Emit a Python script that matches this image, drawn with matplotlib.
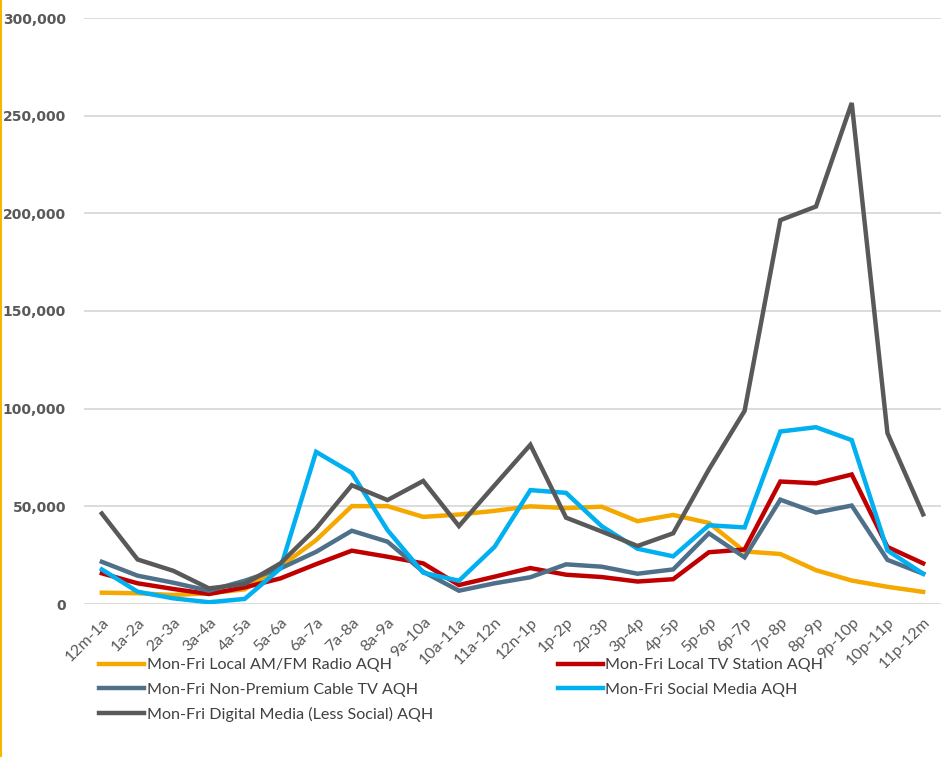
import matplotlib
matplotlib.use('Agg')
import matplotlib.pyplot as plt
from matplotlib.lines import Line2D
from matplotlib.ticker import FuncFormatter

hours = ['12m-1a', '1a-2a', '2a-3a', '3a-4a', '4a-5a', '5a-6a', '6a-7a', '7a-8a',
         '8a-9a', '9a-10a', '10a-11a', '11a-12n', '12n-1p', '1p-2p', '2p-3p', '3p-4p',
         '4p-5p', '5p-6p', '6p-7p', '7p-8p', '8p-9p', '9p-10p', '10p-11p', '11p-12m']

radio = [5800, 5500, 4600, 5500, 7500, 19100, 32700, 50100, 50100, 44600, 45800, 47700,
         50000, 49100, 49800, 42400, 45600, 41500, 26900, 25600, 17300, 12000, 8800, 6200]
tv = [15700, 10600, 7700, 5100, 8500, 13100, 20400, 27300, 24200, 20800, 9700, 14000,
      18400, 15000, 13800, 11500, 12700, 26500, 27900, 62700, 61800, 66300, 29200, 20800]
cable = [21600, 14500, 10900, 6800, 11900, 18200, 26700, 37500, 31900, 16500, 6800, 10600,
         13700, 20300, 19100, 15500, 17700, 36200, 23900, 53400, 46800, 50400, 22600, 15500]
social = [17700, 6300, 2900, 900, 2600, 18200, 77900, 67100, 37800, 16000, 11900, 29300,
          58300, 56900, 39800, 28300, 24400, 40300, 39200, 88300, 90500, 83900, 27400, 15500]
digital = [46300, 22800, 17000, 8000, 10200, 20800, 38700, 60800, 53200, 63000, 39900, 60800,
           81500, 44200, 37100, 29700, 36200, 68900, 98900, 196500, 203500, 256500, 87500, 45900]

series = [
    ('Mon-Fri Local AM/FM Radio AQH', radio, '#F5A800'),
    ('Mon-Fri Local TV Station AQH', tv, '#C00000'),
    ('Mon-Fri Non-Premium Cable TV AQH', cable, '#4E7089'),
    ('Mon-Fri Social Media AQH', social, '#00B0F0'),
    ('Mon-Fri Digital Media (Less Social) AQH', digital, '#595959'),
]

fig = plt.figure(figsize=(9.41, 7.57), dpi=100)
ax = fig.add_axes([84 / 941, 1 - 604 / 757, (941 - 84) / 941, (604 - 18) / 757])

x = range(len(hours))
lines = {}
for name, vals, col in series:
    ln, = ax.plot(x, vals, color=col, linewidth=3.2, label=name, solid_joinstyle='miter')
    lines[name] = ln

ax.set_xlim(-0.5, 23.5)
ax.set_ylim(0, 300000)
ax.set_yticks(range(0, 300001, 50000))
ax.yaxis.set_major_formatter(FuncFormatter(lambda v, p: f'{int(v):,}'))
ax.grid(axis='y', color='#D9D9D9', linewidth=1.3)
ax.set_axisbelow(True)
for s in ax.spines.values():
    s.set_visible(False)
ax.tick_params(axis='both', length=0, colors='#595959')
ax.tick_params(axis='y', labelsize=10, pad=13)
for t in ax.get_yticklabels():
    t.set_fontweight('semibold')
ax.set_xticks(list(x))
ax.set_xticklabels(hours, rotation=45, ha='right', rotation_mode='anchor',
                   fontsize=11.5, family='Lato', color='#595959')
ax.tick_params(axis='x', pad=8)

order = [series[0][0], series[2][0], series[4][0], series[1][0], series[3][0]]
fig.legend([lines[n] for n in order], order, loc='upper left',
           bbox_to_anchor=(99 / 941, 1 - 658 / 757), ncol=2, frameon=False,
           prop={'family': 'Lato', 'size': 11.6}, labelcolor='#404040',
           handlelength=2.8, handletextpad=0.15, columnspacing=7.75,
           labelspacing=0.62, borderpad=0, borderaxespad=0)

fig.add_artist(Line2D([0.0015, 0.0015], [0, 1], color='#F5B800', linewidth=1.5))

fig.savefig('out.png', dpi=100)
